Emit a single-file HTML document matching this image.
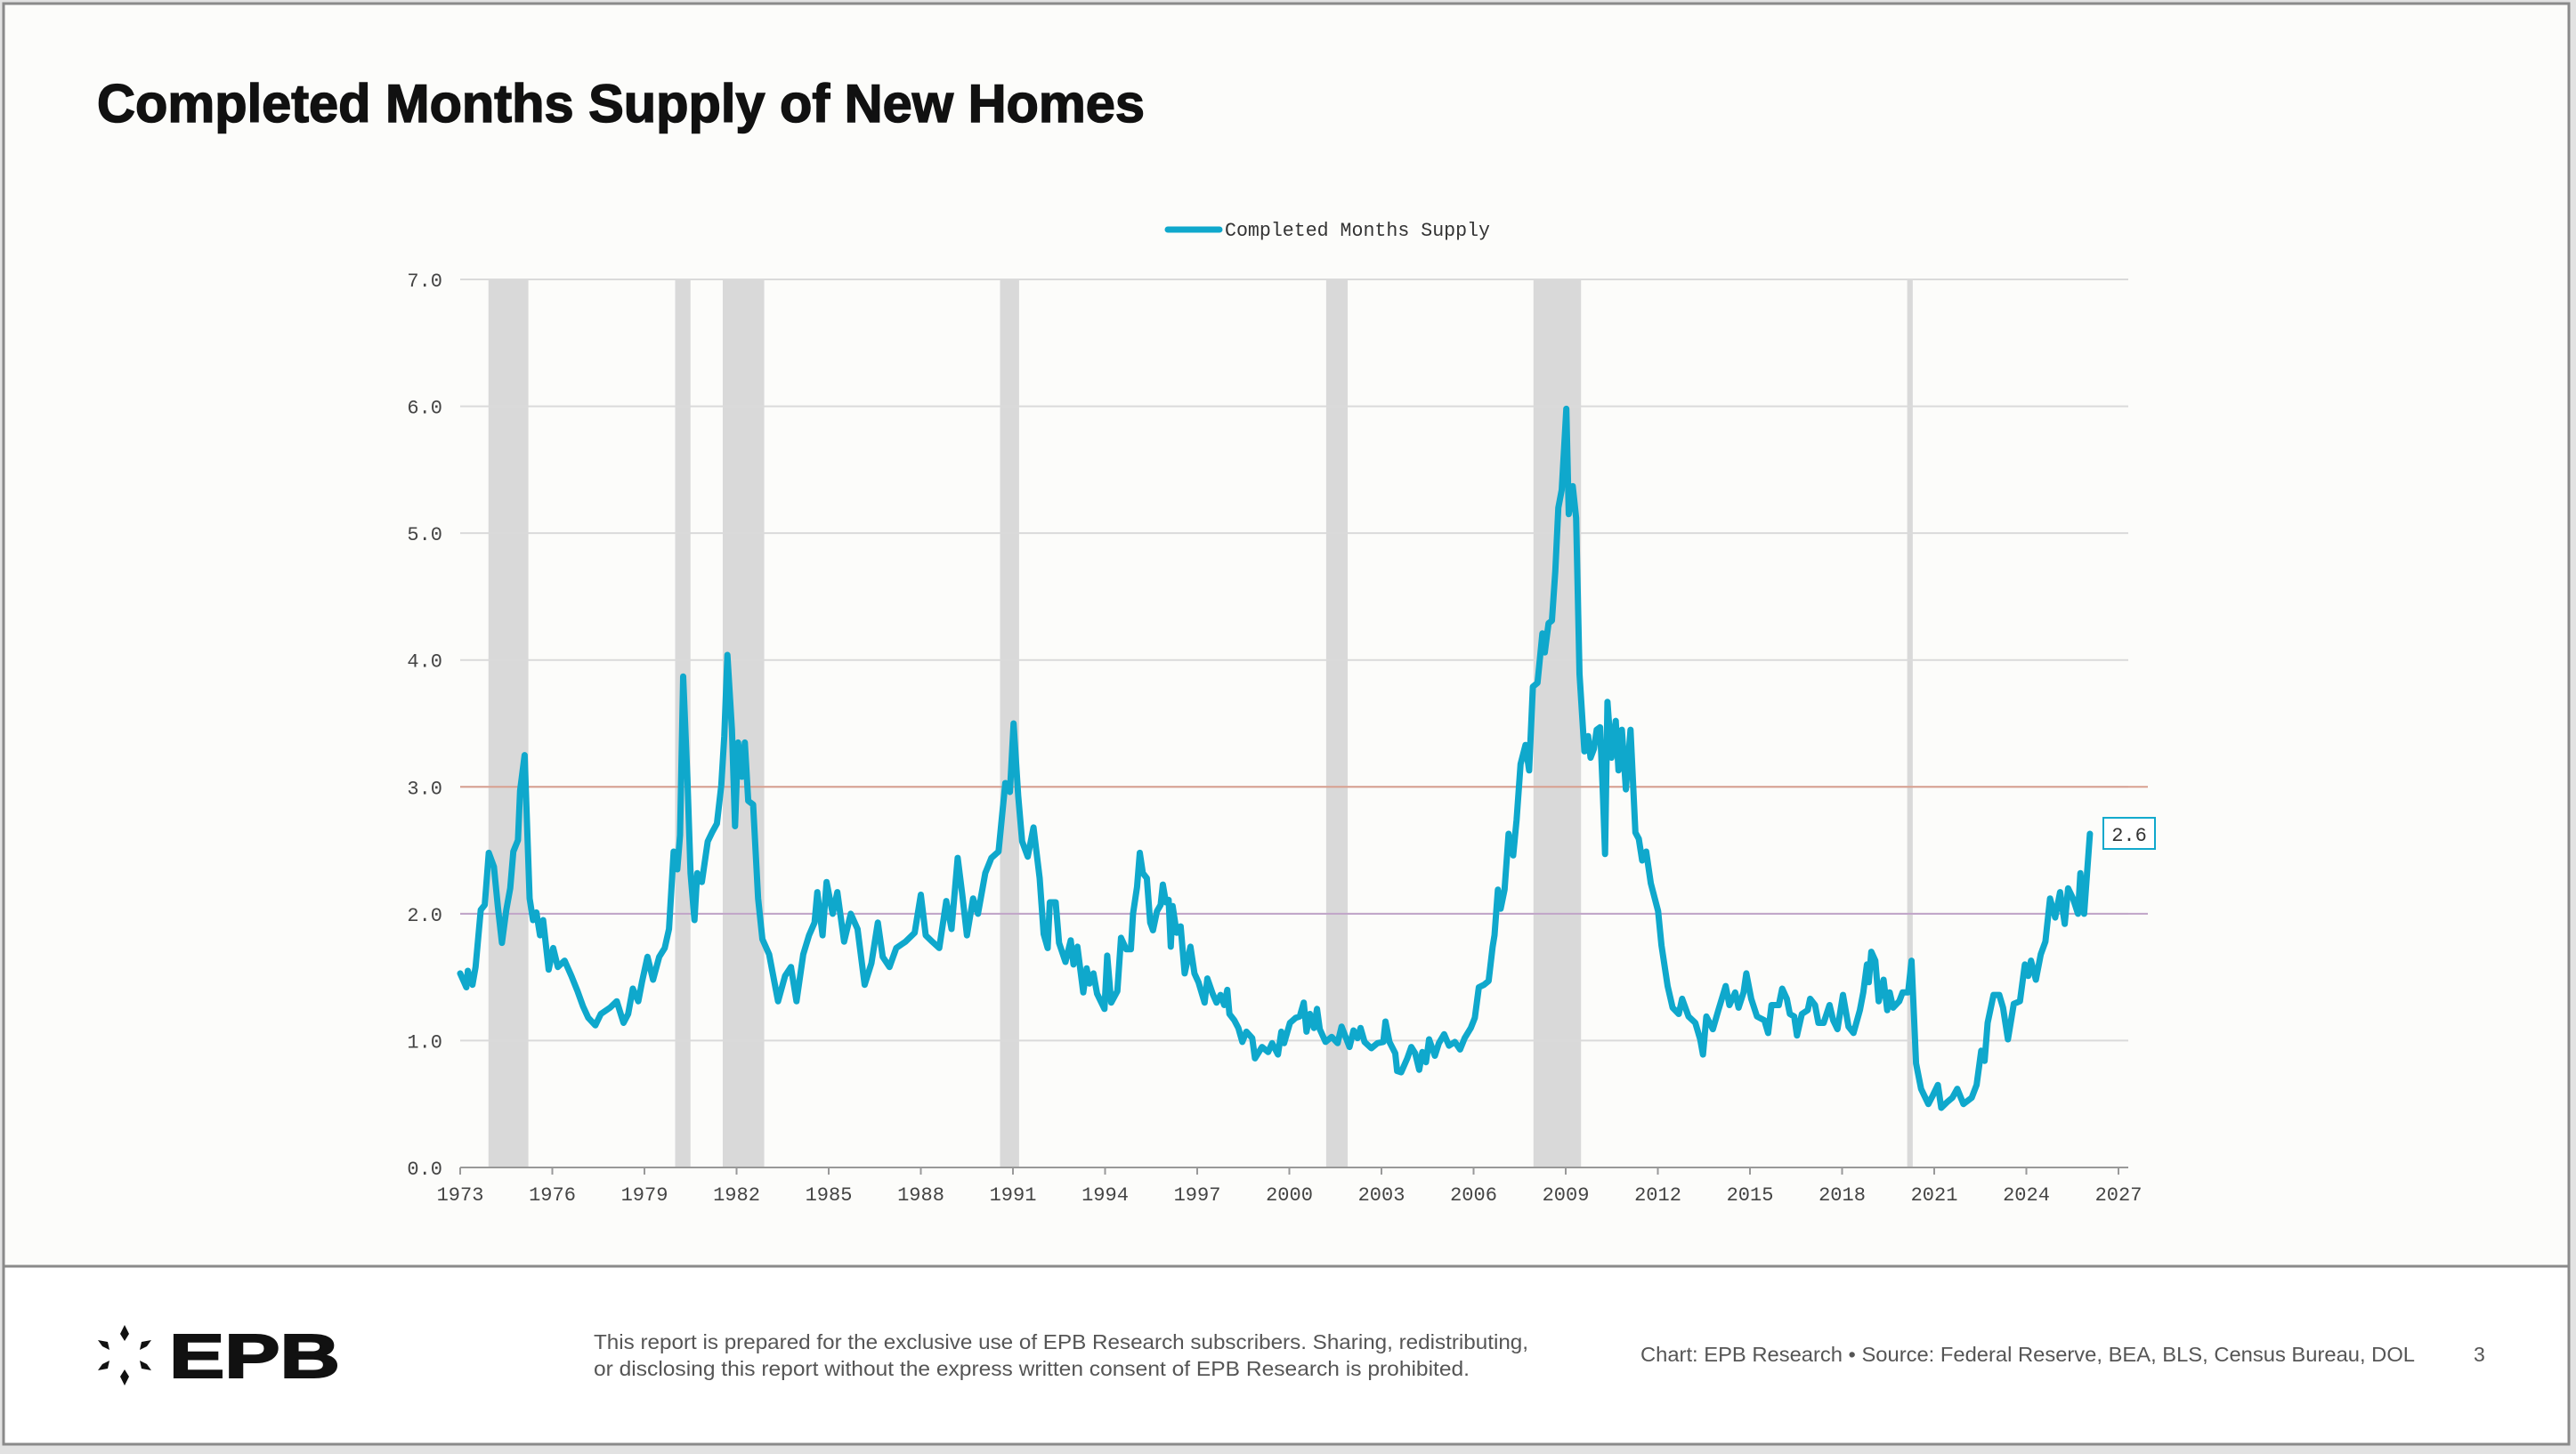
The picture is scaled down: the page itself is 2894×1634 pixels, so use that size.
<!DOCTYPE html>
<html><head><meta charset="utf-8"><style>
html,body{margin:0;padding:0;background:#e2e2e2;}
svg{display:block;font-family:"Liberation Sans",sans-serif;}
</style></head><body>
<svg id="chart" width="2894" height="1634" viewBox="0 0 2894 1634" xmlns="http://www.w3.org/2000/svg">
<rect x="0" y="0" width="2894" height="1634" fill="#e2e2e2"/>
<rect x="4" y="4" width="2882" height="1419" fill="#fcfcfa" stroke="#8a8a8a" stroke-width="3"/>
<rect x="4" y="1423" width="2882" height="200" fill="#ffffff" stroke="#8a8a8a" stroke-width="3"/>
<text x="109" y="137" font-size="60" font-weight="bold" fill="#111" stroke="#111" stroke-width="1.5" textLength="1177" lengthAdjust="spacingAndGlyphs">Completed Months Supply of New Homes</text>
<g>
<line x1="1312" y1="258" x2="1370" y2="258" stroke="#0fa8cc" stroke-width="7" stroke-linecap="round"/>
<text x="1376" y="265" font-family="Liberation Mono, monospace" font-size="22" fill="#333" textLength="298" lengthAdjust="spacingAndGlyphs">Completed Months Supply</text>
</g>
<g id="bands"></g>
<g id="grid"></g>
<g id="axes"></g>
<g id="series"></g>
<g id="annot"></g>
<g>
<g>
<g transform="translate(140,1523)" fill="#111">
<polygon points="0,-34 5,-24 0,-16 -5,-24"/>
<polygon points="0,34 5,24 0,16 -5,24"/>
<polygon points="-30,-17 -19,-15 -17,-6 -25,-10" />
<polygon points="30,-17 19,-15 17,-6 25,-10" />
<polygon points="-30,17 -19,15 -17,6 -25,10" />
<polygon points="30,17 19,15 17,6 25,10" />
</g>
<text x="190" y="1548" font-size="70" font-weight="bold" fill="#111" stroke="#111" stroke-width="2" textLength="192" lengthAdjust="spacingAndGlyphs">EPB</text>
</g>
<text x="667" y="1516" font-size="23" fill="#555" textLength="1050" lengthAdjust="spacingAndGlyphs">This report is prepared for the exclusive use of EPB Research subscribers. Sharing, redistributing,</text>
<text x="667" y="1546" font-size="23" fill="#555" textLength="984" lengthAdjust="spacingAndGlyphs">or disclosing this report without the express written consent of EPB Research is prohibited.</text>
<text x="1843" y="1530" font-size="23" fill="#555" textLength="870" lengthAdjust="spacingAndGlyphs">Chart: EPB Research  •  Source: Federal Reserve, BEA, BLS, Census Bureau, DOL</text>
<text x="2779" y="1530" font-size="23" fill="#555">3</text>
</g>
</svg>
<script>
const yTicks = [0,1,2,3,4,5,6,7];
const yTickLabels = ["0.0","1.0","2.0","3.0","4.0","5.0","6.0","7.0"];
const xTicks = [1973,1976,1979,1982,1985,1988,1991,1994,1997,2000,2003,2006,2009,2012,2015,2018,2021,2024,2027];
const xTickLabels = ["1973","1976","1979","1982","1985","1988","1991","1994","1997","2000","2003","2006","2009","2012","2015","2018","2021","2024","2027"];
const recessionStarts = [1973.92,1980.0,1981.55,1990.58,2001.2,2007.95,2020.12];
const recessionEnds = [1975.22,1980.5,1982.9,1991.2,2001.9,2009.5,2020.3];
const refLevels = [3.0,2.0];
const lastLabel = "2.6";
const dates = [1973.0,1973.2,1973.25,1973.4,1973.5,1973.67,1973.8,1973.93,1974.1,1974.23,1974.36,1974.5,1974.63,1974.73,1974.88,1974.95,1975.1,1975.26,1975.37,1975.48,1975.6,1975.7,1975.88,1976.03,1976.18,1976.4,1976.62,1976.82,1977.0,1977.17,1977.4,1977.58,1977.88,1978.1,1978.32,1978.47,1978.62,1978.8,1978.92,1979.1,1979.28,1979.48,1979.66,1979.8,1979.95,1980.07,1980.16,1980.26,1980.4,1980.5,1980.63,1980.72,1980.87,1981.06,1981.2,1981.36,1981.5,1981.6,1981.7,1981.85,1981.95,1982.05,1982.17,1982.27,1982.38,1982.54,1982.7,1982.84,1983.06,1983.35,1983.58,1983.77,1983.95,1984.17,1984.36,1984.54,1984.63,1984.8,1984.93,1985.13,1985.28,1985.5,1985.72,1985.94,1986.17,1986.39,1986.6,1986.76,1986.98,1987.2,1987.5,1987.8,1988.0,1988.16,1988.37,1988.6,1988.83,1989.0,1989.2,1989.35,1989.5,1989.7,1989.86,1990.1,1990.3,1990.53,1990.75,1990.9,1991.02,1991.17,1991.3,1991.48,1991.67,1991.87,1992.0,1992.13,1992.2,1992.39,1992.5,1992.71,1992.88,1992.97,1993.1,1993.29,1993.4,1993.49,1993.62,1993.74,1993.98,1994.07,1994.2,1994.4,1994.52,1994.69,1994.84,1994.91,1995.04,1995.13,1995.23,1995.36,1995.47,1995.56,1995.69,1995.81,1995.88,1995.98,1996.07,1996.14,1996.2,1996.33,1996.46,1996.59,1996.78,1996.91,1997.04,1997.24,1997.33,1997.5,1997.63,1997.76,1997.88,1997.98,1998.05,1998.21,1998.34,1998.47,1998.6,1998.79,1998.88,1999.11,1999.31,1999.44,1999.63,1999.74,1999.83,2000.02,2000.21,2000.34,2000.47,2000.56,2000.67,2000.8,2000.9,2000.99,2001.18,2001.38,2001.57,2001.7,2001.96,2002.09,2002.22,2002.32,2002.45,2002.67,2002.87,2003.06,2003.13,2003.26,2003.45,2003.51,2003.64,2003.84,2003.97,2004.1,2004.23,2004.33,2004.45,2004.55,2004.74,2004.87,2005.04,2005.2,2005.39,2005.56,2005.71,2005.91,2006.04,2006.17,2006.34,2006.49,2006.62,2006.68,2006.79,2006.88,2007.01,2007.14,2007.29,2007.4,2007.53,2007.69,2007.81,2007.93,2008.08,2008.24,2008.32,2008.44,2008.55,2008.66,2008.76,2008.87,2009.02,2009.1,2009.23,2009.34,2009.45,2009.61,2009.73,2009.81,2009.92,2010.01,2010.12,2010.2,2010.28,2010.36,2010.49,2010.63,2010.72,2010.83,2010.96,2011.11,2011.27,2011.38,2011.49,2011.62,2011.77,2012.01,2012.12,2012.32,2012.48,2012.68,2012.79,2013.0,2013.22,2013.38,2013.47,2013.58,2013.79,2013.97,2014.21,2014.33,2014.52,2014.63,2014.79,2014.88,2015.04,2015.23,2015.47,2015.59,2015.7,2015.94,2016.05,2016.2,2016.3,2016.44,2016.53,2016.69,2016.88,2016.96,2017.12,2017.23,2017.4,2017.59,2017.71,2017.85,2018.03,2018.21,2018.37,2018.58,2018.69,2018.81,2018.87,2018.95,2019.08,2019.19,2019.35,2019.47,2019.55,2019.66,2019.86,2019.97,2020.15,2020.26,2020.41,2020.57,2020.81,2020.96,2021.12,2021.23,2021.44,2021.59,2021.75,2021.95,2022.22,2022.38,2022.53,2022.64,2022.74,2022.93,2023.12,2023.24,2023.4,2023.59,2023.79,2023.95,2024.06,2024.15,2024.31,2024.47,2024.62,2024.77,2024.94,2025.1,2025.25,2025.36,2025.52,2025.68,2025.76,2025.88,2026.07];
const values = [1.53,1.42,1.55,1.44,1.58,2.03,2.07,2.48,2.37,2.05,1.77,2.03,2.2,2.49,2.58,2.97,3.25,2.12,1.95,2.01,1.83,1.95,1.56,1.73,1.58,1.63,1.51,1.39,1.27,1.18,1.12,1.21,1.26,1.31,1.14,1.21,1.41,1.31,1.46,1.66,1.48,1.66,1.73,1.88,2.49,2.35,2.62,3.87,3.06,2.32,1.95,2.32,2.25,2.57,2.64,2.71,3.01,3.4,4.04,3.45,2.69,3.35,3.08,3.35,2.89,2.86,2.12,1.8,1.68,1.31,1.51,1.58,1.31,1.68,1.83,1.93,2.17,1.83,2.25,2.0,2.17,1.78,2.0,1.88,1.44,1.61,1.93,1.66,1.58,1.73,1.78,1.85,2.15,1.83,1.78,1.73,2.1,1.88,2.44,2.15,1.83,2.12,2.0,2.32,2.44,2.49,3.03,2.96,3.5,2.93,2.57,2.45,2.68,2.28,1.84,1.73,2.09,2.09,1.77,1.62,1.79,1.6,1.74,1.38,1.57,1.45,1.53,1.37,1.25,1.67,1.3,1.39,1.81,1.72,1.72,2.0,2.21,2.48,2.32,2.28,1.93,1.87,2.02,2.07,2.23,2.09,2.11,1.74,2.06,1.85,1.9,1.53,1.74,1.53,1.46,1.3,1.49,1.37,1.3,1.36,1.28,1.4,1.21,1.16,1.1,0.99,1.07,1.02,0.86,0.95,0.91,0.98,0.89,1.07,0.98,1.14,1.18,1.19,1.3,1.07,1.21,1.1,1.25,1.09,0.99,1.03,0.98,1.11,0.95,1.08,1.02,1.1,0.99,0.94,0.98,0.99,1.15,0.99,0.9,0.76,0.75,0.86,0.95,0.9,0.77,0.91,0.83,1.01,0.88,0.98,1.05,0.96,0.99,0.93,1.02,1.1,1.18,1.42,1.44,1.47,1.74,1.83,2.19,2.04,2.19,2.63,2.46,2.74,3.18,3.33,3.13,3.79,3.82,4.21,4.06,4.29,4.31,4.7,5.2,5.34,5.98,5.15,5.37,5.12,3.89,3.28,3.4,3.23,3.3,3.45,3.47,3.01,2.47,3.67,3.23,3.52,3.13,3.45,2.98,3.45,2.64,2.59,2.42,2.49,2.24,2.02,1.75,1.43,1.26,1.21,1.33,1.19,1.14,1.01,0.89,1.19,1.09,1.24,1.43,1.28,1.38,1.26,1.38,1.53,1.33,1.19,1.16,1.06,1.28,1.28,1.41,1.33,1.21,1.19,1.04,1.21,1.24,1.33,1.28,1.14,1.14,1.28,1.16,1.09,1.36,1.11,1.06,1.24,1.38,1.6,1.46,1.7,1.63,1.31,1.48,1.24,1.38,1.26,1.31,1.38,1.38,1.63,0.82,0.62,0.5,0.57,0.65,0.47,0.52,0.55,0.62,0.5,0.55,0.65,0.92,0.84,1.14,1.36,1.36,1.26,1.01,1.29,1.31,1.6,1.51,1.63,1.48,1.68,1.78,2.12,1.97,2.17,1.92,2.2,2.12,2.0,2.32,2.0,2.63];

const NS = "http://www.w3.org/2000/svg";
const X0 = 517, X1 = 2380, YR0 = 1973, YR1 = 2027;
const Y0 = 1312, Y1 = 314, V0 = 0, V1 = 7;
function xs(t){ return X0 + (t - YR0) / (YR1 - YR0) * (X1 - X0); }
function ys(v){ return Y0 - (v - V0) / (V1 - V0) * (Y0 - Y1); }
function mk(tag, attrs, parent){ const e = document.createElementNS(NS, tag); for (const k in attrs) e.setAttribute(k, attrs[k]); parent.appendChild(e); return e; }

const bands = document.getElementById('bands');
for (let i = 0; i < recessionStarts.length; i++) {
  const r = mk('rect', {x: xs(recessionStarts[i]), y: Y1, width: Math.max(4, xs(recessionEnds[i]) - xs(recessionStarts[i])), height: Y0 - Y1, fill: '#d9d9d9'}, bands);
  
  
}
const grid = document.getElementById('grid');
const axes = document.getElementById('axes');
for (let i = 0; i < yTicks.length; i++) {
  if (yTicks[i] > 0) {
    const g = mk('line', {x1: X0, x2: 2391, y1: ys(yTicks[i]), y2: ys(yTicks[i]), stroke: '#dadada', 'stroke-width': 2}, grid);
    
    
  }
  const t = mk('text', {x: 497, y: ys(yTicks[i]) + 8, 'text-anchor': 'end', 'font-family': 'Liberation Mono, monospace', 'font-size': 22, fill: '#444'}, axes);
  t.textContent = yTickLabels[i];
  
  
}
const ax = mk('line', {x1: X0, x2: 2391, y1: Y0, y2: Y0, stroke: '#999', 'stroke-width': 2}, axes);


for (let i = 0; i < xTicks.length; i++) {
  const tk = mk('line', {x1: xs(xTicks[i]), x2: xs(xTicks[i]), y1: Y0, y2: Y0 + 8, stroke: '#999', 'stroke-width': 2}, axes);
  
  
  const t = mk('text', {x: xs(xTicks[i]), y: Y0 + 37, 'text-anchor': 'middle', 'font-family': 'Liberation Mono, monospace', 'font-size': 22, fill: '#444'}, axes);
  t.textContent = xTickLabels[i];
  
  
}
const refColors = ['#d8a090', '#c0a4c8'];
for (let i = 0; i < refLevels.length; i++) {
  const r = mk('line', {x1: X0, x2: 2413, y1: ys(refLevels[i]), y2: ys(refLevels[i]), stroke: refColors[i], 'stroke-width': 2}, grid);
  
  
}
const series = document.getElementById('series');
let d = '';
for (let i = 0; i < dates.length; i++) d += (i ? 'L' : 'M') + xs(dates[i]).toFixed(1) + ',' + ys(values[i]).toFixed(1);
const p = mk('path', {d: d, fill: 'none', stroke: '#0fa8cc', 'stroke-width': 7, 'stroke-linejoin': 'round', 'stroke-linecap': 'round'}, series);


const annot = document.getElementById('annot');
const ly = ys(values[values.length - 1]);
const lb = mk('rect', {x: 2363, y: ly - 18, width: 58, height: 35, fill: '#fff', stroke: '#0fa8cc', 'stroke-width': 2}, annot);


const lt = mk('text', {x: 2392, y: ly + 8, 'text-anchor': 'middle', 'font-family': 'Liberation Mono, monospace', 'font-size': 22, fill: '#333'}, annot);
lt.textContent = lastLabel;


</script>
</body></html>
